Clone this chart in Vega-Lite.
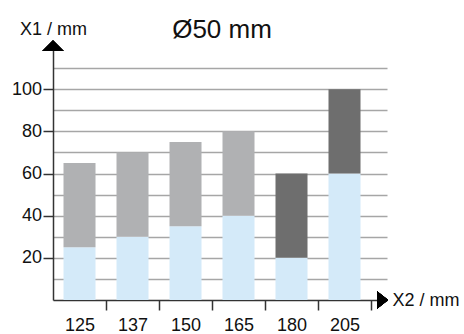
{
  "$schema": "https://vega.github.io/schema/vega-lite/v6.json",
  "width": 334,
  "height": 253,
  "autosize": {"type": "none"},
  "padding": {"left": 53, "top": 47, "right": 77, "bottom": 34},
  "background": "white",
  "title": {"text": "Ø50 mm", "fontSize": 26, "font": "Liberation Sans", "fontWeight": "normal", "color": "#111", "baseline": "alphabetic", "offset": 10, "dx": 2, "dy": 54},
  "config": {"view": {"stroke": null}, "font": "Liberation Sans"},
  "data": {"values": [
    {"x2": "125", "part": "base", "value": 25, "ord": 0},
    {"x2": "125", "part": "light", "value": 40, "ord": 1},
    {"x2": "137", "part": "base", "value": 30, "ord": 0},
    {"x2": "137", "part": "light", "value": 40, "ord": 1},
    {"x2": "150", "part": "base", "value": 35, "ord": 0},
    {"x2": "150", "part": "light", "value": 40, "ord": 1},
    {"x2": "165", "part": "base", "value": 40, "ord": 0},
    {"x2": "165", "part": "light", "value": 40, "ord": 1},
    {"x2": "180", "part": "base", "value": 20, "ord": 0},
    {"x2": "180", "part": "dark", "value": 40, "ord": 1},
    {"x2": "205", "part": "base", "value": 60, "ord": 0},
    {"x2": "205", "part": "dark", "value": 40, "ord": 1}
  ]},
  "layer": [
    {
      "mark": {"type": "bar"},
      "encoding": {
        "x": {
          "field": "x2", "type": "ordinal", "sort": null,
          "scale": {"paddingInner": 0.396, "paddingOuter": 0.349, "align": 0.284},
          "axis": {
            "title": "X2 / mm", "titleFontSize": 18, "titleFontWeight": "normal", "titleColor": "#111",
            "titleX": 339, "titleY": 0, "titleAlign": "left", "titleBaseline": "middle", "titleAnchor": "start",
            "labelFontSize": 18, "labelColor": "#111", "labelAngle": 0, "labelBaseline": "alphabetic", "labelPadding": 20,
            "tickOffset": 26.5, "labelOffset": -26.5,
            "tickSize": 10, "tickColor": "#333", "tickWidth": 1.5,
            "domainColor": "#333", "domainWidth": 1.5, "grid": false
          }
        },
        "y": {
          "field": "value", "type": "quantitative", "stack": "zero",
          "scale": {"domain": [0, 120], "nice": false},
          "axis": {
            "title": "X1 / mm", "titleFontSize": 18, "titleFontWeight": "normal", "titleColor": "#111",
            "titleAngle": 0, "titleX": 0, "titleY": -13, "titleAlign": "center", "titleBaseline": "alphabetic",
            "values": [10, 20, 30, 40, 50, 60, 70, 80, 90, 100, 110],
            "labelExpr": "datum.value % 20 === 0 && datum.value <= 100 ? datum.label : ''",
            "labelFontSize": 18, "labelColor": "#111", "labelPadding": 1.5, "labelBaseline": "middle",
            "tickSize": 10, "tickColor": "#333", "tickWidth": 1.5,
            "tickOpacity": {"condition": {"test": "datum.value % 20 === 0 && datum.value <= 100", "value": 1}, "value": 0},
            "domainColor": "#333", "domainWidth": 1.5,
            "grid": true, "gridColor": "#a6a6a6", "gridWidth": 1.5
          }
        },
        "color": {
          "field": "part", "type": "nominal",
          "scale": {"domain": ["base", "light", "dark"], "range": ["#d4eaf9", "#b0b1b3", "#6e6e6e"]},
          "legend": null
        },
        "order": {"field": "ord", "type": "quantitative"}
      }
    },
    {
      "mark": {"type": "point", "shape": "M-1,0L1,0L0,-1Z", "size": 441, "filled": true, "color": "black", "opacity": 1},
      "encoding": {"x": {"value": 0}, "y": {"value": 4}}
    },
    {
      "mark": {"type": "point", "shape": "M0,-0.8L1,0L0,0.8Z", "size": 484, "filled": true, "color": "black", "opacity": 1},
      "encoding": {"x": {"value": 324}, "y": {"value": "height"}}
    }
  ]
}
